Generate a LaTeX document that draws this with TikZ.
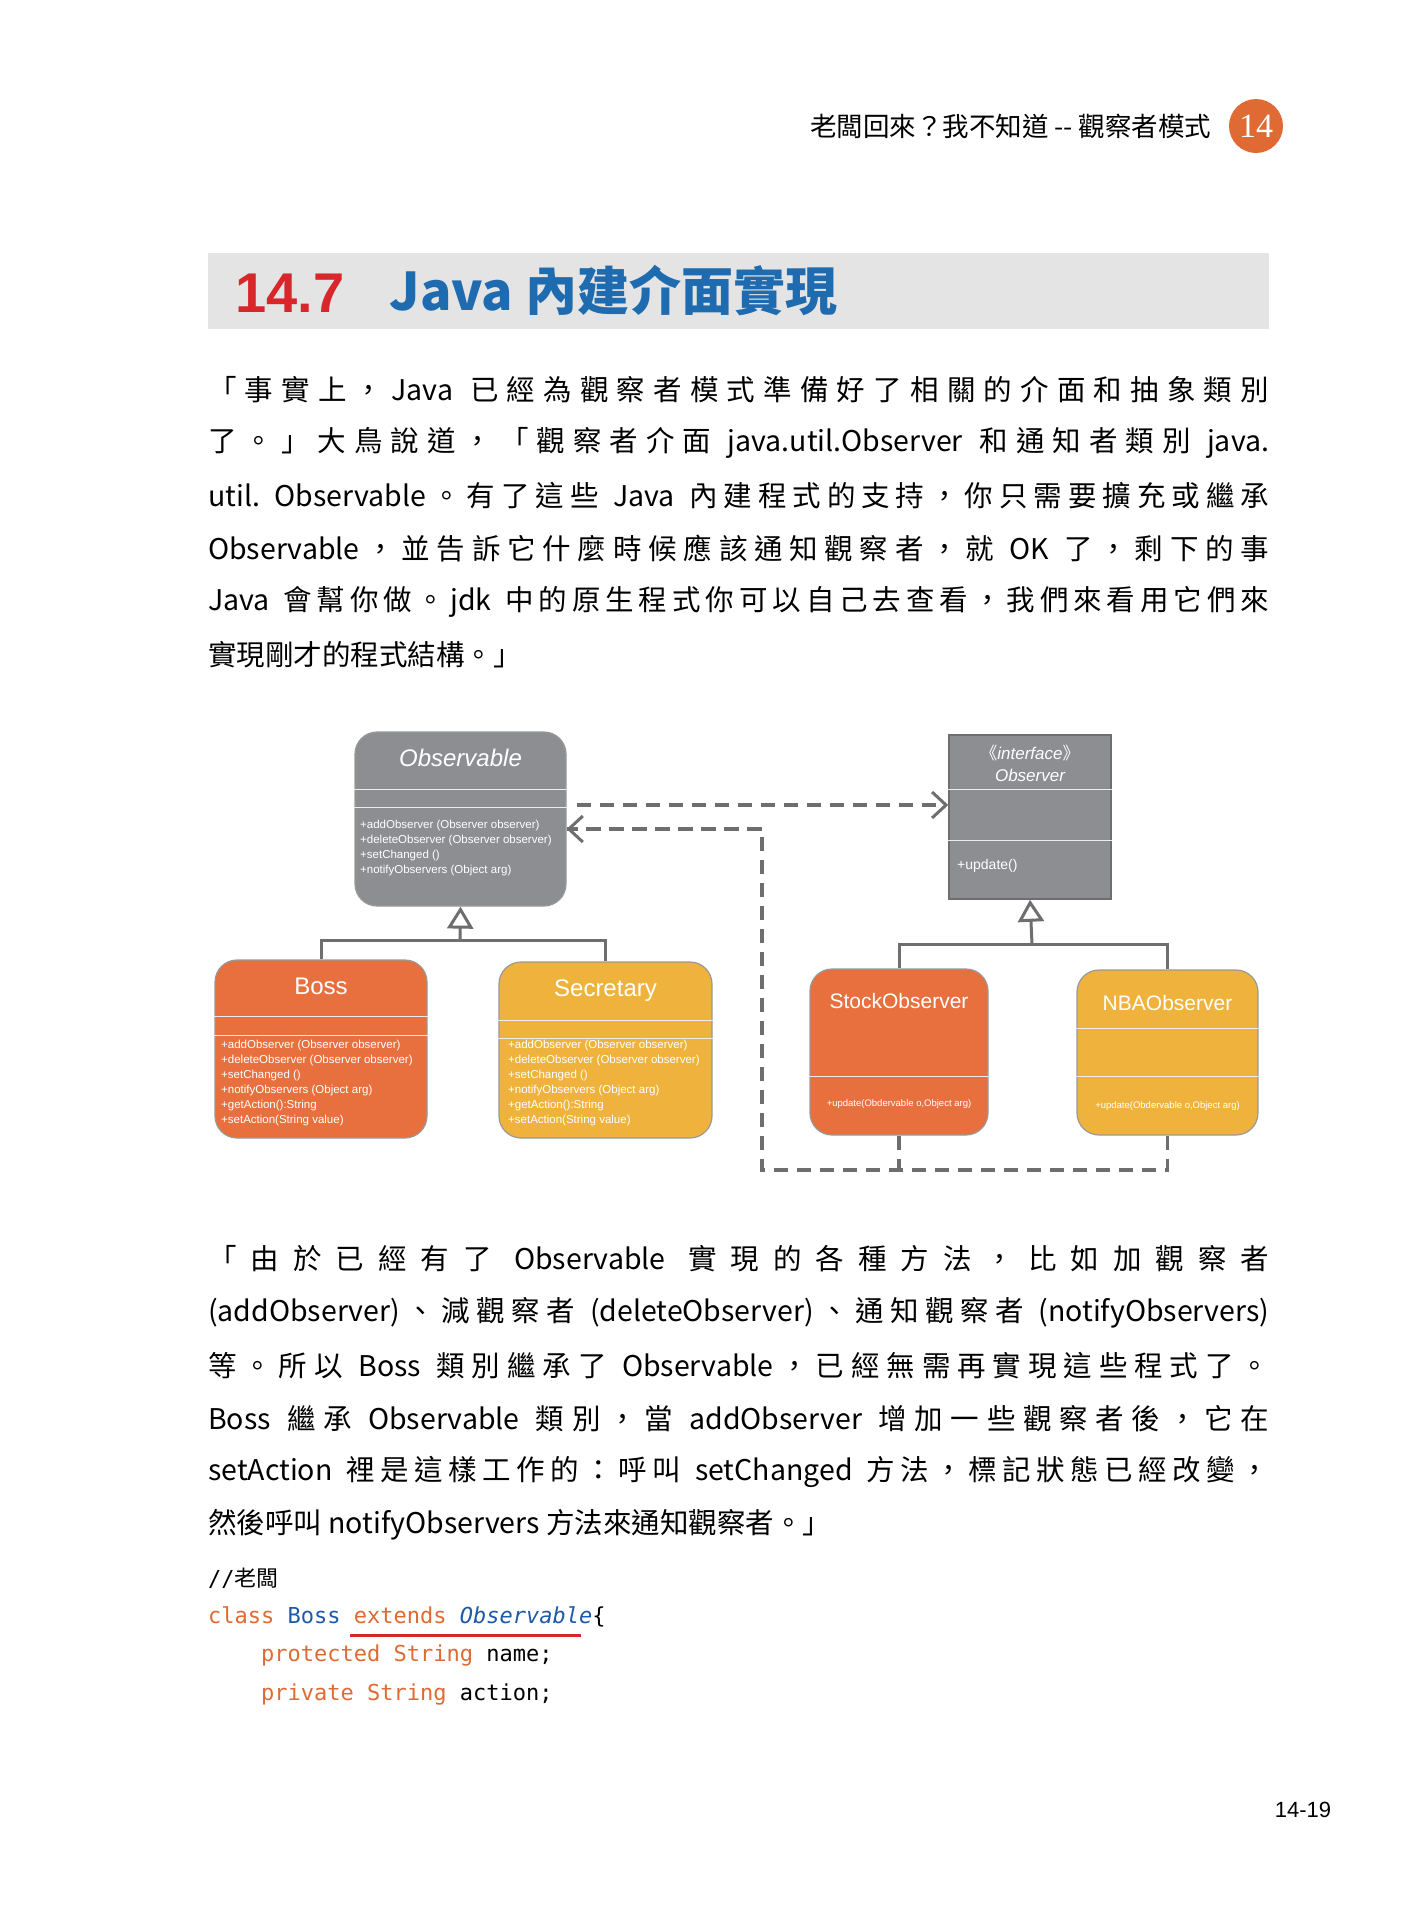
\documentclass[tikz,border=0pt]{standalone}
\usepackage{fontspec}
\setmainfont{Liberation Serif}
\setsansfont{Liberation Sans}
\setmonofont{DejaVu Sans Mono}
\newfontfamily\cjk{Noto Sans CJK TC}
\usetikzlibrary{positioning, calc, arrows.meta}
% stretchable glue around CJK characters, for justified lines
\newcount\cjkcode
\cjkcode="3000 \loop \XeTeXcharclass\cjkcode=1 \advance\cjkcode by 1 \ifnum\cjkcode<"3040 \repeat
\cjkcode="4E00 \loop \XeTeXcharclass\cjkcode=1 \advance\cjkcode by 1 \ifnum\cjkcode<"A000 \repeat
\cjkcode="FF00 \loop \XeTeXcharclass\cjkcode=1 \advance\cjkcode by 1 \ifnum\cjkcode<"FF60 \repeat
\newcommand{\cjkglue}{\hskip 0pt plus 1pt\relax}
\XeTeXinterchartoks 1 1 = {\cjkglue}
\XeTeXinterchartoks 0 1 = {\cjkglue}
\XeTeXinterchartoks 1 0 = {\cjkglue}
\newcommand{\fullline}[1]{\hbox to 1061pt{\XeTeXinterchartokenstate=1\spaceskip=0.3em plus 1pt\xspaceskip=0.3em plus 1pt\relax #1}}
\definecolor{umlgray}{HTML}{8C8E91}
\definecolor{bossorange}{HTML}{E8703F}
\definecolor{secyellow}{HTML}{EFB33D}
\definecolor{linegray}{HTML}{6E6E6E}
\definecolor{titlebar}{HTML}{E4E4E4}
\definecolor{titlered}{HTML}{D8262A}
\definecolor{titleblue}{HTML}{1F6BB0}
\definecolor{kworange}{HTML}{DF6A33}
\definecolor{kwblue}{HTML}{1E5AA8}
\tikzset{
    cls/.style={rectangle, rounded corners=22, draw=linegray!70, line width=1.2, text centered},
    iface/.style={rectangle, draw=linegray, line width=1.5, fill=umlgray},
    clsname/.style={text=white, font=\sffamily\fontsize{24}{28}\selectfont},
    methods/.style={text=white, align=left, anchor=north west, inner sep=0, font=\sffamily\fontsize{11.5}{15}\selectfont},
    sep/.style={draw=white!85!gray, line width=0.8},
    inherit/.style={draw=linegray, line width=3},
    depend/.style={draw=linegray, line width=3.2, dash pattern=on 14 off 9},
    para/.style={anchor=west, inner sep=0, font=\cjk\fontsize{28.5}{34}\selectfont},
    code/.style={anchor=west, inner sep=0, font=\ttfamily\fontsize{22}{26}\selectfont}
}
\begin{document}
\begin{tikzpicture}[x=1pt, y=-1pt]
    \useasboundingbox [fill=white] (0,0) rectangle (1419,1920);

    % Header
    \node (chapter) [fill=kworange, circle, minimum size=54, inner sep=0, text=white, font=\fontsize{34}{34}\selectfont] at (1256,126) {14};
    \node (header) [left=14 of chapter, font=\cjk\fontsize{26.5}{30}\selectfont] {老闆回來？我不知道 -- 觀察者模式};
    \node (titlebg) [fill=titlebar, minimum width=1061, minimum height=76, inner sep=0] at (738.5,291) {};
    \node (secnum) [anchor=west, text=titlered, font=\sffamily\bfseries\fontsize{56}{60}\selectfont] at (232,293) {14.7};
    \node (sectitle) [anchor=west, text=titleblue, font=\cjk\bfseries\fontsize{52}{58}\selectfont] at (386,290) {Java 內建介面實現};

    % Paragraph 1
    \node [para] at (208,390) {\fullline{「事實上，Java 已經為觀察者模式準備好了相關的介面和抽象類別}};
    \node [para] at (208,443) {\fullline{了。」大鳥說道，「觀察者介面 java.util.Observer 和通知者類別 java.}};
    \node [para] at (208,496) {\fullline{util. Observable。有了這些 Java 內建程式的支持，你只需要擴充或繼承}};
    \node [para] at (208,549) {\fullline{Observable，並告訴它什麼時候應該通知觀察者，就 OK 了，剩下的事}};
    \node [para] at (208,602) {\fullline{Java 會幫你做。jdk 中的原生程式你可以自己去查看，我們來看用它們來}};
    \node [para] at (208,655) {實現剛才的程式結構。」};

    % Classes
    \node (observable) [cls, fill=umlgray, minimum width=211, minimum height=174] at (460.5,819) {};
    \node (boss) [cls, fill=bossorange, minimum width=212, minimum height=178] at (321,1049) {};
    \node (secretary) [cls, fill=secyellow, minimum width=213, minimum height=176] at (605.5,1050) {};
    \node (observer) [iface, minimum width=162, minimum height=164] at (1030,817) {};
    \node (stock) [cls, fill=bossorange, minimum width=178, minimum height=166] at (899,1052) {};
    \node (nba) [cls, fill=secyellow, minimum width=181, minimum height=165] at (1167.5,1052.5) {};

    \node [clsname, font=\sffamily\itshape\fontsize{24}{28}\selectfont] at (460.5,758) {Observable};
    \draw [sep] (observable.west |- 0,789) -- (observable.east |- 0,789);
    \draw [sep] (observable.west |- 0,807) -- (observable.east |- 0,807);
    \node [methods] at (360,820) {+addObserver (Observer observer)\\+deleteObserver (Observer observer)\\+setChanged ()\\+notifyObservers (Object arg)};

    \node [clsname] at (321,986) {Boss};
    \draw [sep] (boss.west |- 0,1016) -- (boss.east |- 0,1016);
    \draw [sep] (boss.west |- 0,1035) -- (boss.east |- 0,1035);
    \node [methods] at (221,1040) {+addObserver (Observer observer)\\+deleteObserver (Observer observer)\\+setChanged ()\\+notifyObservers (Object arg)\\+getAction():String\\+setAction(String value)};

    \node [clsname] at (605.5,991) {Secretary};
    \draw [sep] (secretary.west |- 0,1020) -- (secretary.east |- 0,1020);
    \draw [sep] (secretary.west |- 0,1038) -- (secretary.east |- 0,1038);
    \node [methods] at (508,1040) {+addObserver (Observer observer)\\+deleteObserver (Observer observer)\\+setChanged ()\\+notifyObservers (Object arg)\\+getAction():String\\+setAction(String value)};

    \node [clsname, align=center, font=\sffamily\itshape\fontsize{17}{22}\selectfont] at (1030,763) {{\cjk 《}interface{\cjk 》}\\Observer};
    \draw [sep] (observer.west |- 0,789) -- (observer.east |- 0,789);
    \draw [sep] (observer.west |- 0,840) -- (observer.east |- 0,840);
    \node [methods, anchor=west, font=\sffamily\fontsize{14}{16}\selectfont] at (957,866) {+update()};

    \node [clsname, font=\sffamily\fontsize{21}{26}\selectfont] at (899,1001) {StockObserver};
    \draw [sep] (stock.west |- 0,1076) -- (stock.east |- 0,1076);
    \node [methods, anchor=center, font=\sffamily\fontsize{9.5}{12}\selectfont] at (899,1104) {+update(Obdervable o,Object arg)};

    \node [clsname, font=\sffamily\fontsize{21}{26}\selectfont] at (1167.5,1003) {NBAObserver};
    \draw [sep] (nba.west |- 0,1028) -- (nba.east |- 0,1028);
    \draw [sep] (nba.west |- 0,1076) -- (nba.east |- 0,1076);
    \node [methods, anchor=center, font=\sffamily\fontsize{9.5}{12}\selectfont] at (1167.5,1106) {+update(Obdervable o,Object arg)};

    % Inheritance
    \coordinate (obsbar) at (460,940);
    \draw [inherit] (boss.north) |- (secretary.north |- obsbar) -- (secretary.north);
    \draw [inherit, -{Triangle[open, length=22, width=26, line width=3]}] (obsbar) -- (observable.south);
    \coordinate (ifbar) at (1032,944);
    \draw [inherit] (stock.north) |- (nba.north |- ifbar) -- (nba.north);
    \draw [inherit, -{Triangle[open, length=22, width=26, line width=3]}] (ifbar) -- (observer.south);

    % Dependencies
    \draw [depend, -{Straight Barb[length=14, width=26, line width=3]}] (observable.east |- 0,805) ++(10,0) -- (observer.west |- 0,805);
    \coordinate (loop) at (762,1170);
    \draw [depend] (stock.south) -- (stock.south |- loop);
    \draw [depend] (nba.south) |- (loop) |- (observable.east |- 0,829);
    \draw [depend, -{Straight Barb[length=14, width=26, line width=3]}] (loop |- 0,829) -- (observable.east |- 0,829);

    % Paragraph 2
    \node [para] at (208,1259) {\fullline{「由於已經有了 Observable 實現的各種方法，比如加觀察者}};
    \node [para] at (208,1313) {\fullline{(addObserver)、減觀察者 (deleteObserver)、通知觀察者 (notifyObservers)}};
    \node [para] at (208,1366) {\fullline{等。所以 Boss 類別繼承了 Observable，已經無需再實現這些程式了。}};
    \node [para] at (208,1419) {\fullline{Boss 繼承 Observable 類別，當 addObserver 增加一些觀察者後，它在}};
    \node [para] at (208,1472) {\fullline{setAction 裡是這樣工作的：呼叫 setChanged 方法，標記狀態已經改變，}};
    \node [para] at (208,1525) {然後呼叫 notifyObservers 方法來通知觀察者。」};

    % Code
    \node (comment) [code] at (208,1578) {//{\cjk 老闆}};
    \node (line1) [code] at (208,1617) {\textcolor{kworange}{class} \textcolor{kwblue}{Boss} \textcolor{kworange}{extends} \textcolor{kwblue}{\itshape Observable}\{};
    \draw [draw=titlered, line width=3] (350,1635) -- (581,1635);
    \node (line2) [code] at (261,1655) {\textcolor{kworange}{protected String} name;};
    \node (line3) [code] at (261,1694) {\textcolor{kworange}{private String} action;};

    \node (pageno) [font=\sffamily\fontsize{22}{26}\selectfont] at (1303,1810) {14-19};
\end{tikzpicture}
\end{document}
